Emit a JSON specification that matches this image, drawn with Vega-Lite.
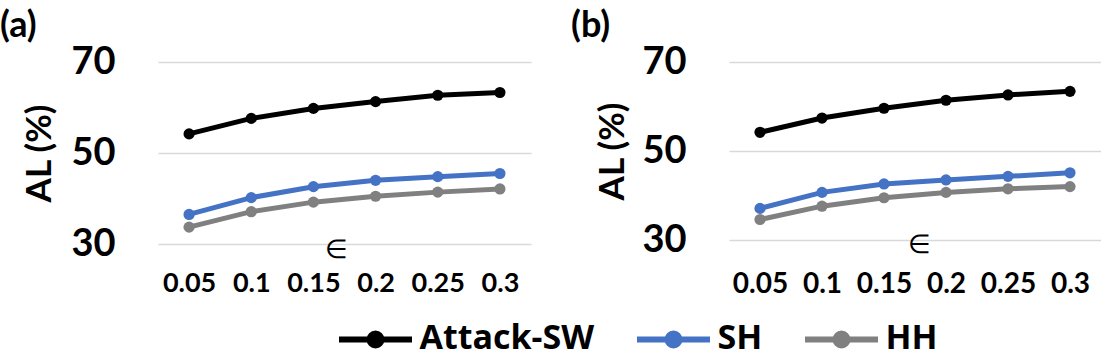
{
  "$schema": "https://vega.github.io/schema/vega-lite/v6.json",
  "padding": {"top": 8, "left": 0, "right": 0, "bottom": 0},
  "background": "white",
  "data": {"values": [
    {"panel":"a","eps":"0.05","series":"Attack-SW","value":54.2},
    {"panel":"a","eps":"0.1","series":"Attack-SW","value":57.6},
    {"panel":"a","eps":"0.15","series":"Attack-SW","value":59.8},
    {"panel":"a","eps":"0.2","series":"Attack-SW","value":61.3},
    {"panel":"a","eps":"0.25","series":"Attack-SW","value":62.7},
    {"panel":"a","eps":"0.3","series":"Attack-SW","value":63.3},
    {"panel":"a","eps":"0.05","series":"SH","value":36.5},
    {"panel":"a","eps":"0.1","series":"SH","value":40.2},
    {"panel":"a","eps":"0.15","series":"SH","value":42.6},
    {"panel":"a","eps":"0.2","series":"SH","value":44.0},
    {"panel":"a","eps":"0.25","series":"SH","value":44.8},
    {"panel":"a","eps":"0.3","series":"SH","value":45.5},
    {"panel":"a","eps":"0.05","series":"HH","value":33.7},
    {"panel":"a","eps":"0.1","series":"HH","value":37.1},
    {"panel":"a","eps":"0.15","series":"HH","value":39.2},
    {"panel":"a","eps":"0.2","series":"HH","value":40.5},
    {"panel":"a","eps":"0.25","series":"HH","value":41.4},
    {"panel":"a","eps":"0.3","series":"HH","value":42.1},
    {"panel":"b","eps":"0.05","series":"Attack-SW","value":54.2},
    {"panel":"b","eps":"0.1","series":"Attack-SW","value":57.4},
    {"panel":"b","eps":"0.15","series":"Attack-SW","value":59.6},
    {"panel":"b","eps":"0.2","series":"Attack-SW","value":61.4},
    {"panel":"b","eps":"0.25","series":"Attack-SW","value":62.6},
    {"panel":"b","eps":"0.3","series":"Attack-SW","value":63.4},
    {"panel":"b","eps":"0.05","series":"SH","value":37.1},
    {"panel":"b","eps":"0.1","series":"SH","value":40.7},
    {"panel":"b","eps":"0.15","series":"SH","value":42.6},
    {"panel":"b","eps":"0.2","series":"SH","value":43.5},
    {"panel":"b","eps":"0.25","series":"SH","value":44.3},
    {"panel":"b","eps":"0.3","series":"SH","value":45.1},
    {"panel":"b","eps":"0.05","series":"HH","value":34.6},
    {"panel":"b","eps":"0.1","series":"HH","value":37.6},
    {"panel":"b","eps":"0.15","series":"HH","value":39.5},
    {"panel":"b","eps":"0.2","series":"HH","value":40.7},
    {"panel":"b","eps":"0.25","series":"HH","value":41.5},
    {"panel":"b","eps":"0.3","series":"HH","value":42.0}
  ]},
  "spacing": 40,
  "hconcat": [
    {
      "width": 373,
      "height": 182,
      "title": {"text": "(a)", "anchor": "start", "frame": "group", "dx": -158, "offset": -2, "fontSize": 36, "font": "Lato", "fontWeight": "bold"},
      "transform": [{"filter": "datum.panel === 'a'"}],
      "mark": {"type": "line", "strokeWidth": 5, "point": {"filled": true, "size": 125, "opacity": 1}},
      "encoding": {
        "x": {"field": "eps", "type": "ordinal", "sort": ["0.05","0.1","0.15","0.2","0.25","0.3"],
              "axis": {"title": "∈", "titleX": 178, "titleY": 5, "titleBaseline": "middle", "labelPadding": 26, "labelFontSize": 27}},
        "y": {"field": "value", "type": "quantitative", "scale": {"domain": [30, 70], "nice": false},
              "axis": {"title": "AL (%)", "values": [30, 50, 70], "labelPadding": 43, "titleX": -101}},
        "color": {"field": "series", "type": "nominal", "scale": {"domain": ["Attack-SW","SH","HH"], "range": ["#000000","#4472C4","#808080"]}}
      }
    },
    {
      "width": 372,
      "height": 178,
      "title": {"text": "(b)", "anchor": "start", "frame": "group", "dx": -158, "offset": -2, "fontSize": 36, "font": "Lato", "fontWeight": "bold"},
      "transform": [{"filter": "datum.panel === 'b'"}],
      "mark": {"type": "line", "strokeWidth": 5, "point": {"filled": true, "size": 125, "opacity": 1}},
      "encoding": {
        "x": {"field": "eps", "type": "ordinal", "sort": ["0.05","0.1","0.15","0.2","0.25","0.3"],
              "axis": {"title": "∈", "titleX": 190, "titleY": 4, "titleBaseline": "middle", "labelPadding": 30, "labelFontSize": 28}},
        "y": {"field": "value", "type": "quantitative", "scale": {"domain": [30, 70], "nice": false},
              "axis": {"title": "AL (%)", "values": [30, 50, 70], "labelPadding": 43, "titleX": -99}},
        "color": {"field": "series", "type": "nominal", "scale": {"domain": ["Attack-SW","SH","HH"], "range": ["#000000","#4472C4","#808080"]}}
      }
    }
  ],
  "config": {
    "view": {"stroke": null},
    "font": "Lato",
    "axis": {
      "domain": false, "ticks": false, "grid": true, "gridColor": "#d9d9d9", "gridWidth": 1.5,
      "labelFont": "Lato", "labelFontWeight": "bold", "labelColor": "#000000",
      "titleFont": "Lato", "titleFontWeight": "bold", "titleColor": "#000000"
    },
    "axisX": {"grid": false, "labelAngle": 0, "labelBaseline": "top", "titleFontSize": 26, "titleFontWeight": "normal"},
    "axisY": {"labelFontSize": 38, "titleFontSize": 35},
    "legend": {
      "orient": "none", "legendX": 197.5, "legendY": 257, "direction": "horizontal", "title": null, "padding": 0,
      "labelFont": "Open Sans", "labelFontSize": 34, "labelFontWeight": "bold", "labelColor": "#000000",
      "symbolType": "M-2.147,0L2.147,0M-0.353,0A0.353,0.353 0 1,1 0.353,0A0.353,0.353 0 1,1 -0.353,0Z",
      "symbolSize": 1156, "symbolStrokeWidth": 6, "symbolOpacity": 1, "columnPadding": 30, "labelOffset": 24,
      "labelLimit": 400
    }
  }
}
